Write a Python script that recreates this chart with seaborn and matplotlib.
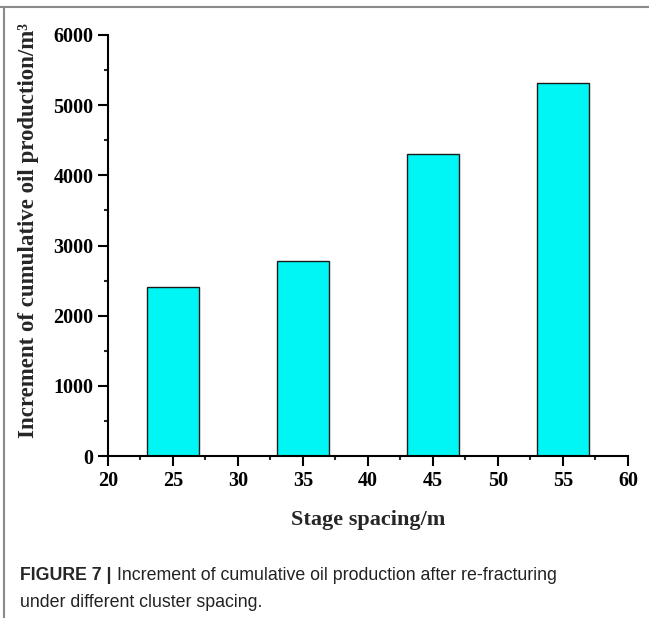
import matplotlib
matplotlib.use("Agg")
import matplotlib.pyplot as plt
from matplotlib.lines import Line2D
from matplotlib.ticker import MultipleLocator
import pandas as pd
import seaborn as sns

# Stage spacing (m) and the increment of cumulative oil production (m³)
stage_spacing = [25, 35, 45, 55]
oil_increment = [2410, 2780, 4300, 5310]

x_ticks = [20, 25, 30, 35, 40, 45, 50, 55, 60]
y_ticks = [0, 1000, 2000, 3000, 4000, 5000, 6000]

df = pd.DataFrame({"spacing": stage_spacing, "increment": oil_increment})

sns.set_style("ticks")
plt.rcParams["font.family"] = ["Liberation Serif", "DejaVu Serif"]

fig = plt.figure(figsize=(6.49, 6.18), dpi=100)
ax = fig.add_axes([0.1664, 0.2621, 0.8012, 0.6813])

sns.barplot(data=df, x="spacing", y="increment", native_scale=True,
            width=0.4, color="#00F5F5", saturation=1,
            edgecolor="#1a1a1a", linewidth=1.0, ax=ax)

ax.set_xlim(20, 60)
ax.set_ylim(0, 6000)
ax.set_xticks(x_ticks)
ax.set_yticks(y_ticks)
ax.xaxis.set_minor_locator(MultipleLocator(2.5))
ax.yaxis.set_minor_locator(MultipleLocator(500))

ax.tick_params(axis="both", which="major", direction="out", length=7,
               width=1.5, labelsize=14.5, colors="black")
ax.tick_params(axis="both", which="minor", direction="out", length=3,
               width=1.5)
for lbl in ax.get_xticklabels() + ax.get_yticklabels():
    lbl.set_fontweight("bold")

for side in ("top", "right"):
    ax.spines[side].set_visible(False)
for side in ("left", "bottom"):
    ax.spines[side].set_linewidth(1.5)
    ax.spines[side].set_color("black")

ax.set_xlabel("Stage spacing/m", fontsize=16, fontweight="bold", labelpad=14)
ax.set_ylabel("Increment of cumulative oil production/m\u00b3", fontsize=16.5,
              fontweight="bold")
ax.yaxis.set_label_coords(-0.132, 0.535)

# Caption beneath the chart
cap_font = ["Liberation Sans", "DejaVu Sans"]
t1 = fig.text(0.031, 0.0615, "FIGURE 7 |", family=cap_font, fontsize=12.8,
              fontweight="bold", va="baseline")
fig.canvas.draw()
bb = t1.get_window_extent()
x_after = (bb.x1 + 5) / fig.bbox.width
fig.text(x_after, 0.0615, "Increment of cumulative oil production after re-fracturing",
         family=cap_font, fontsize=12.8, va="baseline", color="#222222")
fig.text(0.031, 0.018, "under different cluster spacing.", family=cap_font,
         fontsize=12.8, va="baseline", color="#222222")

# Panel frame: top and left rules
fig.add_artist(Line2D([0, 1], [0.9887, 0.9887], transform=fig.transFigure,
                      color="#8a8a8a", lw=1.5))
fig.add_artist(Line2D([0.0062, 0.0062], [0, 0.9887], transform=fig.transFigure,
                      color="#8a8a8a", lw=1.5))

fig.savefig("out.png", dpi=100)
